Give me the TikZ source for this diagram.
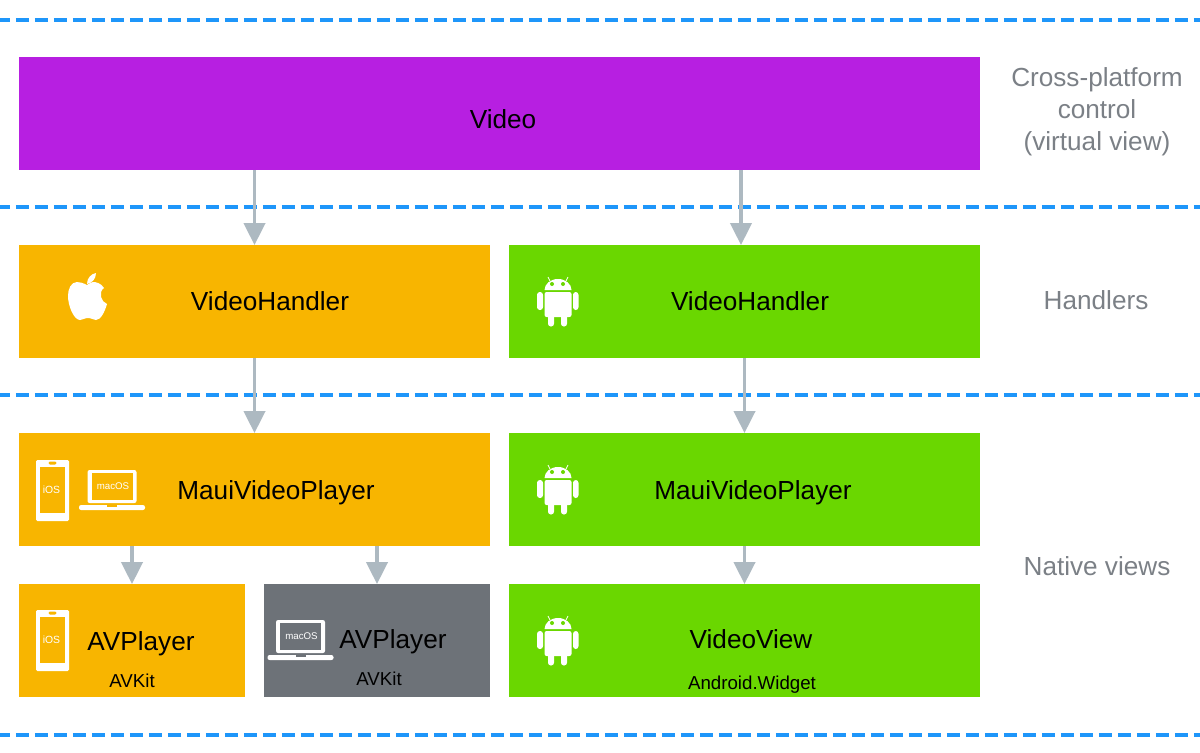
\documentclass[tikz,border=0pt]{standalone}
\usepackage{fontspec}
\setmainfont{Liberation Sans}
\usetikzlibrary{arrows.meta}
\definecolor{videopurple}{HTML}{B71FE1}
\definecolor{appleorange}{HTML}{F8B500}
\definecolor{droidgreen}{HTML}{6AD700}
\definecolor{macgray}{HTML}{6D7278}
\definecolor{arrowgray}{HTML}{ADB9C1}
\definecolor{tierblue}{HTML}{1E96FA}
\definecolor{tiergray}{HTML}{7B8086}
\tikzset{
	block/.style={anchor=north west,minimum width=#1*0.025cm,minimum height=113*0.025cm,inner sep=0pt,outer sep=0pt},
	mainlabel/.style={font=\fontsize{18.6}{22}\selectfont,text=black,inner sep=0pt,text height=13.4pt,text depth=0pt},
	sublabel/.style={font=\fontsize{13.3}{15}\selectfont,text=black,inner sep=0pt,text height=9.5pt,text depth=0pt},
	tierlabel/.style={font=\fontsize{18.6}{22.75}\selectfont,text=tiergray,align=center,inner sep=0pt},
	tierline/.style={tierblue,line width=2.2pt,dash pattern=on 9.24pt off 4.27pt},
	flow/.style={arrowgray,line width=2.4pt,-{Triangle[length=15.5pt,width=15pt]}},
	pics/appleicon/.style={code={
		\fill[white] (0,-15) .. controls (-4,-17) and (-7,-18) .. (-10,-18) .. controls (-16,-18) and (-19,-11) .. (-19,-4) .. controls (-19,6) and (-13,20) .. (-7,20) .. controls (-4,20) and (-3,18) .. (1,18) .. controls (5,18) and (6,20) .. (9,20) .. controls (14,20) and (18,11) .. (20,4) .. controls (14,2) and (11,-8) .. (17,-12) .. controls (14,-17) and (9,-18) .. (6,-18) .. controls (4,-18) and (2,-16) .. (0,-15) -- cycle;
		\fill[white] (0,-16) .. controls (0,-22) and (4,-26) .. (9,-27) .. controls (9,-21) and (5,-17) .. (0,-16) -- cycle;
	}},
	pics/droidicon/.style={code={
		\fill[white] (-13.5,-12) arc (180:360:13.5 and 11) -- cycle;
		\draw[white,line width=0.6pt] (-8,-21) -- (-10,-25) (8,-21) -- (10,-25);
		\fill[droidgreen] (-6,-18) circle (2) (5,-18) circle (2);
		\fill[white,rounded corners=1.5pt] (-13.5,-10) rectangle (13.5,15);
		\fill[white,rounded corners=2pt] (-21,-10) rectangle (-15,8) (15,-10) rectangle (20.5,8) (-10,10) rectangle (-4,24.5) (3,10) rectangle (9,24.5);
	}},
	pics/phoneicon/.style={code={
		\fill[white,rounded corners=1pt] (-16.5,-30.5) rectangle (16.5,30.5);
		\fill[#1] (-12.5,-23.5) rectangle (12.5,22.5);
		\fill[#1,rounded corners=1pt] (-4,-29) rectangle (4,-26);
		\node[white,inner sep=0pt,font=\fontsize{7.4}{9}\selectfont] at (-1,-1) {iOS};
	}},
	pics/laptopicon/.style={code={
		\fill[white,rounded corners=1.5pt] (-24.5,-20) rectangle (24.5,13);
		\fill[#1] (-20.5,-17) rectangle (20.5,9.5);
		\fill[white,rounded corners=1.5pt] (-33,15) rectangle (33,20);
		\fill[#1] (-5,15) rectangle (5,16.5);
		\node[white,inner sep=0pt,font=\fontsize{6.9}{9}\selectfont] at (1,-4) {macOS};
	}}
}
\begin{document}
\begin{tikzpicture}[x=0.025cm,y=-0.025cm]
	\useasboundingbox (0,0) rectangle (1200,752);

	% tier separators
	\foreach \tier/\ypos in {a/20,b/207,c/395,d/735}{
		\coordinate (tier\tier w) at (-3,\ypos);
		\coordinate (tier\tier e) at (1200,\ypos);
		\draw[tierline] (tier\tier w) -- (tier\tier e);
	}

	\node[block=961,fill=videopurple] (video) at (19,57) {};
	\node[block=471,fill=appleorange] (handlerapple) at (19,245) {};
	\node[block=471,fill=droidgreen] (handlerdroid) at (509,245) {};
	\node[block=471,fill=appleorange] (playerapple) at (19,433) {};
	\node[block=471,fill=droidgreen] (playerdroid) at (509,433) {};
	\node[block=226,fill=appleorange] (avios) at (19,584) {};
	\node[block=226,fill=macgray] (avmac) at (264,584) {};
	\node[block=471,fill=droidgreen] (videoview) at (509,584) {};

	\node[mainlabel] (videotext) at (503,119) {Video};
	\node[mainlabel] (handlerappletext) at (270,301) {VideoHandler};
	\node[mainlabel] (handlerdroidtext) at (750,301) {VideoHandler};
	\node[mainlabel] (playerappletext) at (276,490) {MauiVideoPlayer};
	\node[mainlabel] (playerdroidtext) at (753,490) {MauiVideoPlayer};
	\node[mainlabel] (aviostext) at (141,641) {AVPlayer};
	\node[mainlabel] (avmactext) at (393,639) {AVPlayer};
	\node[mainlabel] (videoviewtext) at (751,639) {VideoView};
	\node[sublabel] (avioskit) at (132,681) {AVKit};
	\node[sublabel] (avmackit) at (379,679) {AVKit};
	\node[sublabel] (viewwidget) at (752,683) {Android.Widget};

	\node[tierlabel] (tiercontrol) at (1097,112) {Cross-platform\\control\\(virtual view)};
	\node[tierlabel] (tierhandlers) at (1096,300) {Handlers};
	\node[tierlabel] (tiernative) at (1097,566) {Native views};

	\pic at (87,300) {appleicon};
	\pic at (558,302) {droidicon};
	\pic at (52.5,490.5) {phoneicon=appleorange};
	\pic at (112,490) {laptopicon=appleorange};
	\pic at (558,490) {droidicon};
	\pic at (52.5,640.5) {phoneicon=appleorange};
	\pic at (300.5,640) {laptopicon=macgray};
	\pic at (558,641) {droidicon};

	\draw[flow] (handlerapple.north |- video.south) -- (handlerapple.north);
	\draw[flow] ([xshift=-2.5pt]handlerdroid.north |- video.south) -- ([xshift=-2.5pt]handlerdroid.north);
	\draw[flow] (handlerapple.south) -- (playerapple.north);
	\draw[flow] (handlerdroid.south) -- (playerdroid.north);
	\draw[flow] (avios.north |- playerapple.south) -- (avios.north);
	\draw[flow] (avmac.north |- playerapple.south) -- (avmac.north);
	\draw[flow] (playerdroid.south) -- (videoview.north);
\end{tikzpicture}
\end{document}
